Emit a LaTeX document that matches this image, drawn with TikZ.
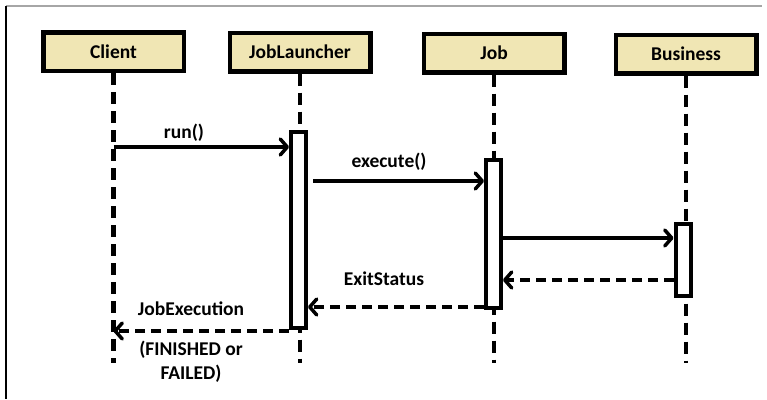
\documentclass[tikz,border=0pt]{standalone}
\usepackage{fontspec}
\setmainfont{Carlito}
\usetikzlibrary{arrows.meta}
\definecolor{headfill}{RGB}{240,230,180}
\begin{document}
\begin{tikzpicture}[x=1pt,y=-1pt,
  header/.style={draw=black, line width=4.5pt, fill=headfill, minimum width=140.5pt,
    minimum height=38.5pt, inner sep=0pt, font=\fontsize{19.5}{22}\selectfont\bfseries},
  lifeline/.style={line width=4.5pt, dash pattern=on 12pt off 7pt},
  activation/.style={draw=black, line width=4pt, fill=white, minimum width=15pt, inner sep=0pt},
  msg/.style={line width=3.5pt, -{Straight Barb[length=7pt,width=16pt,round]}},
  reply/.style={msg, dash pattern=on 10pt off 6pt},
  lbl/.style={inner sep=0pt, font=\fontsize{19.5}{24}\selectfont\bfseries, align=center}
]
\useasboundingbox (0,0) rectangle (767,399);

% frame edges
\draw[gray!70, line width=1.5pt] (6,6) -- (762,6);
\draw[black, line width=2pt] (6,6) -- (6,399);

% participants
\node[header] (client)   at (113.5,51.5) {Client};
\node[header] (launcher) at (300,52)     {JobLauncher};
\node[header] (job)      at (494,53)     {Job};
\node[header] (business) at (686,54)     {Business};

% lifelines
\coordinate (lifeEnd) at (0,363);
\foreach \p in {client,launcher,job,business}
  \draw[lifeline] (\p.south) -- (\p.south |- lifeEnd);

% activation bars
\node[activation, minimum height=196pt] (aJL)  at (298.5,230) {};
\node[activation, minimum height=148pt] (aJob) at (493.5,234) {};
\node[activation, minimum height=72pt]  (aBus) at (683,260)   {};

% message levels
\coordinate (yRun)  at (0,147);
\coordinate (yExec) at (0,181);
\coordinate (yCall) at (0,238);
\coordinate (yExit) at (0,280);
\coordinate (yBack) at (0,307);
\coordinate (yDone) at (0,331);
\coordinate (exStart) at (313,181);

% calls
\draw[msg] (client.south |- yRun) -- (aJL.west |- yRun);
\draw[msg] (exStart) -- (aJob.west |- yExec);
\draw[msg] (aJob.east |- yCall) -- (aBus.west |- yCall);

% returns
\draw[reply] (aBus.west |- yExit) -- (aJob.east |- yExit);
\draw[reply] (aJob.west |- yBack) -- (aJL.east |- yBack);
\draw[reply] (aJL.west |- yDone) -- (client.south |- yDone);

% labels
\node[lbl] (lRun)  at (184,133) {run()};
\node[lbl] (lExec) at (389,162) {execute()};
\node[lbl] (lExit) at (384,279) {ExitStatus};
\node[lbl] (lJE)   at (191,309) {JobExecution};
\node[lbl] (lFin)  at (191,362) {(FINISHED or\\FAILED)};
\end{tikzpicture}
\end{document}
